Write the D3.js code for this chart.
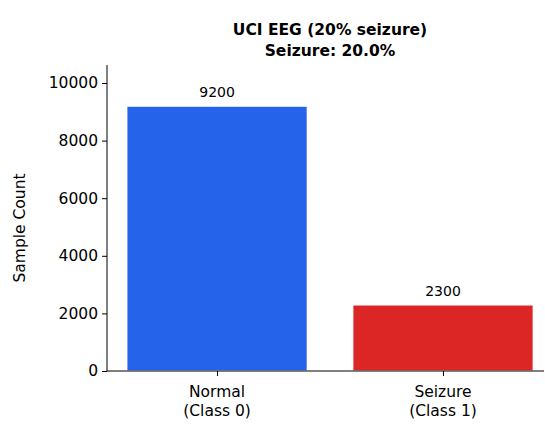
<!DOCTYPE html>
<html><head><meta charset="utf-8">
<script src="https://cdn.jsdelivr.net/npm/d3@7"></script>
<style>body{margin:0;background:#fff}text{font-family:"DejaVu Sans",sans-serif}</style>
</head><body>
<svg id="c" width="545" height="433"></svg>
<script>
const categories = ["Normal\n(Class 0)", "Seizure\n(Class 1)"];
const counts = [9200, 2300];
const colors = ["#2563eb", "#dc2626"];
const yTicks = [0, 2000, 4000, 6000, 8000, 10000];

const svg = d3.select("#c");
const L = 107, R = 544, T = 65, B = 371;
const x = d3.scaleLinear().domain([-0.487, 1.447]).range([L, R]);
const y = d3.scaleLinear().domain([0, 10625]).range([B, T]);
const bw = x(0.8) - x(0);

svg.selectAll("rect.bar").data(counts).enter().append("rect")
  .attr("x", (d,i)=>x(i)-bw/2).attr("width", bw)
  .attr("y", d=>y(d)).attr("height", d=>B-y(d))
  .attr("fill", (d,i)=>colors[i]).attr("stroke", "#fff").attr("stroke-width", 1.5);

svg.selectAll("text.val").data(counts).enter().append("text")
  .attr("x", (d,i)=>x(i)).attr("y", d=>y(d)-9).attr("text-anchor","middle")
  .attr("font-size", 14).text(d=>d);

const ya = svg.append("g").attr("transform", `translate(${L},0)`)
  .call(d3.axisLeft(y).tickValues(yTicks).tickSize(5).tickPadding(4).tickFormat(d3.format("d")));
ya.selectAll("text").attr("font-size", 15.5).attr("fill","#000");
ya.select(".domain").attr("d", `M0,${B}V${T}`);

const xa = svg.append("g").attr("transform", `translate(0,${B})`)
  .call(d3.axisBottom(x).tickValues([0,1]).tickSize(5).tickFormat(""));
xa.select(".domain").attr("d", `M${L},0H${R}`);
categories.forEach((c,i)=>{
  const t = svg.append("text").attr("x", x(i)).attr("y", B+26).attr("text-anchor","middle").attr("font-size",15.5);
  c.split("\n").forEach((s,j)=>t.append("tspan").attr("x", x(i)).attr("dy", j?19:0).text(s));
});

svg.append("text").attr("transform", `translate(25,${(T+B)/2+10}) rotate(-90)`)
  .attr("text-anchor","middle").attr("font-size",15.5).text("Sample Count");

svg.append("text").attr("x", 330).attr("y", 35).attr("text-anchor","middle").attr("font-size",15.5).attr("font-weight","bold").text("UCI EEG (20% seizure)");
svg.append("text").attr("x", 330).attr("y", 56).attr("text-anchor","middle").attr("font-size",15.5).attr("font-weight","bold").text("Seizure: 20.0%");
</script>
</body></html>
